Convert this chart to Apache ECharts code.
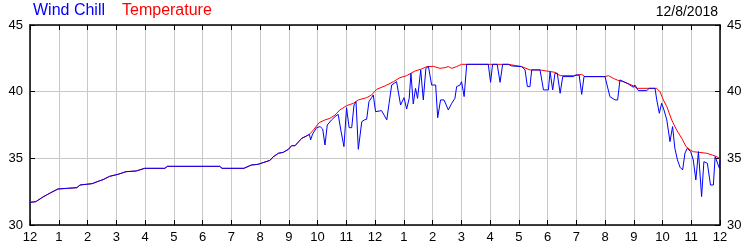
<!DOCTYPE html>
<html>
<head>
<meta charset="utf-8">
<script src="https://cdn.jsdelivr.net/npm/echarts@6/dist/echarts.min.js"></script>
<style>html,body{margin:0;padding:0;background:#fff}#c{width:750px;height:250px}</style>
</head>
<body>
<div id="c"></div>
<script>
// Hours since midnight and readings (°F)
var tempHours = [0,0.2,0.45,0.7,0.97,1.3,1.63,1.74,2.16,2.4,2.54,2.77,3.06,3.34,3.69,3.99,4.69,4.78,6.6,6.68,7.44,7.7,7.93,8.21,8.35,8.45,8.64,8.81,8.99,9.10,9.22,9.45,9.62,9.72,9.86,10.06,10.26,10.43,10.61,10.78,11.01,11.25,11.42,11.71,11.88,12.06,12.35,12.64,12.87,13.10,13.39,13.62,13.8,14.03,14.26,14.43,14.55,14.67,14.84,15.01,16.64,16.7,17.1,17.39,17.74,17.8,18.26,18.44,18.9,18.96,19.19,19.3,20.0,20.12,20.29,20.45,20.64,20.81,20.99,21.12,21.8,21.91,22.03,22.15,22.32,22.49,22.67,22.82,22.96,23.07,23.54,23.83,24.0];
var tempValues = [31.7,31.75,32.1,32.4,32.7,32.75,32.8,33.0,33.1,33.3,33.4,33.65,33.8,34.0,34.05,34.25,34.25,34.4,34.4,34.25,34.25,34.5,34.55,34.75,34.85,35.1,35.38,35.45,35.68,35.95,35.95,36.5,36.68,36.8,37.13,37.68,37.88,38.0,38.25,38.63,38.95,39.13,39.38,39.55,39.75,40.18,40.43,40.75,41.05,41.2,41.55,41.7,41.88,41.9,41.75,41.8,41.88,41.75,41.88,42.05,42.05,41.93,41.88,41.63,41.63,41.5,41.45,41.2,41.2,41.3,41.3,41.13,41.13,41.2,41.0,40.85,40.75,40.6,40.43,40.25,40.25,40.0,39.38,38.88,37.88,37.13,36.5,35.88,35.63,35.5,35.38,35.18,34.98];

var chillHours = [0,0.2,0.45,0.7,0.97,1.3,1.63,1.74,2.16,2.4,2.54,2.77,3.06,3.34,3.69,3.99,4.69,4.78,6.6,6.68,7.44,7.7,7.93,8.21,8.35,8.45,8.64,8.81,8.99,9.10,9.22,9.45,9.62,9.72,9.76,9.83,9.97,10.09,10.18,10.26,10.34,10.49,10.61,10.72,10.81,10.92,11.01,11.1,11.19,11.27,11.34,11.42,11.54,11.63,11.71,11.79,11.88,11.94,12.02,12.23,12.41,12.49,12.58,12.75,12.89,13.01,13.10,13.19,13.25,13.33,13.41,13.48,13.59,13.68,13.77,13.86,13.97,14.11,14.18,14.28,14.4,14.55,14.67,14.78,14.84,14.96,15.01,15.1,15.19,15.94,16.02,16.09,16.25,16.35,16.44,16.64,16.75,17.1,17.22,17.3,17.39,17.45,17.74,17.8,17.86,18.03,18.09,18.18,18.26,18.34,18.44,18.53,18.9,18.99,19.1,19.19,19.27,20.0,20.06,20.17,20.35,20.44,20.52,20.81,20.99,21.04,21.16,21.45,21.54,21.74,21.8,21.89,21.97,22.05,22.15,22.26,22.35,22.43,22.52,22.61,22.7,22.78,22.86,22.98,23.07,23.16,23.25,23.36,23.44,23.56,23.67,23.77,23.83,23.88,23.98,24.0];
var chillValues = [31.7,31.75,32.1,32.4,32.7,32.75,32.8,33.0,33.1,33.3,33.4,33.65,33.8,34.0,34.05,34.25,34.25,34.4,34.4,34.25,34.25,34.5,34.55,34.75,34.85,35.1,35.38,35.45,35.68,35.95,35.95,36.5,36.68,36.8,36.38,36.83,37.3,37.38,37.2,36.0,37.5,37.88,38.13,38.3,37.13,35.88,38.8,37.3,37.3,39.0,39.25,35.68,37.75,37.88,37.93,39.25,39.55,39.75,38.5,38.58,37.88,39.13,40.5,40.75,39.0,39.55,38.7,39.5,41.38,39.08,40.25,39.5,41.63,39.38,41.75,41.88,40.5,40.5,38.05,39.38,39.38,38.63,39.13,39.5,40.38,40.5,40.75,39.63,42.05,42.05,40.7,42.05,42.05,40.7,42.05,42.05,41.93,41.88,41.63,40.38,40.38,41.63,41.63,41.5,40.13,40.13,41.5,40.13,41.38,41.38,39.88,41.13,41.13,41.25,41.25,39.8,41.13,41.13,41.0,39.63,39.38,39.38,40.88,40.58,40.33,40.5,40.08,40.08,40.25,40.25,39.38,38.38,39.13,38.63,37.88,36.25,37.38,35.75,34.88,34.33,34.13,35.38,35.75,35.5,34.88,33.38,35.5,32.13,34.75,34.63,33.0,33.0,35.13,35.0,34.25,34.88];

var hourTicks = ['12','1','2','3','4','5','6','7','8','9','10','11','12','1','2','3','4','5','6','7','8','9','10','11','12'];
var seriesNames = ['Wind Chill','Temperature'];
var dateLabel = '12/8/2018';

function zip(a, b) { var r = []; for (var i = 0; i < a.length; i++) r.push([a[i], b[i]]); return r; }

var FONT = 'Liberation Sans, Arial, sans-serif';
var chart = echarts.init(document.getElementById('c'), null, {renderer: 'canvas'});
var xCommon = {
  type: 'value', min: 0, max: 24, interval: 1,
  axisLine: {show: true, onZero: false, lineStyle: {color: '#000', width: 1.5}},
  axisTick: {show: true, inside: true, length: 5, lineStyle: {color: '#000', width: 1}},
  splitLine: {show: false}
};
var yCommon = {
  type: 'value', min: 30, max: 45, interval: 5,
  axisLine: {show: true, onZero: false, lineStyle: {color: '#000', width: 1.5}},
  axisTick: {show: true, inside: true, length: 5, lineStyle: {color: '#000', width: 1}},
  axisLabel: {show: true, margin: 7, color: '#000', fontSize: 13, fontFamily: FONT},
  splitLine: {show: false}
};
chart.setOption({
  animation: false,
  backgroundColor: '#fff',
  grid: {left: 30, right: 30, top: 25, bottom: 25, containLabel: false},
  xAxis: [
    Object.assign({}, xCommon, {
      position: 'bottom',
      axisLabel: {show: true, margin: 6, color: '#000', fontSize: 13, fontFamily: FONT,
        formatter: function (v) { return hourTicks[Math.round(v)]; }},
      splitLine: {show: true, lineStyle: {color: '#c8c8c8', width: 1}}
    }),
    Object.assign({}, xCommon, {position: 'top', axisLabel: {show: false}})
  ],
  yAxis: [
    Object.assign({}, yCommon, {position: 'left',
      splitLine: {show: true, lineStyle: {color: '#c8c8c8', width: 1}}}),
    Object.assign({}, yCommon, {position: 'right'})
  ],
  graphic: [
    {type: 'text', left: 33, top: 3, style: {text: seriesNames[0], fill: '#0000ff', font: '16px ' + FONT}},
    {type: 'text', left: 122, top: 3, style: {text: seriesNames[1], fill: '#ff0000', font: '16px ' + FONT}},
    {type: 'text', right: 32, top: 5, style: {text: dateLabel, fill: '#000', font: '14px ' + FONT}}
  ],
  series: [
    {name: seriesNames[1], type: 'line', xAxisIndex: 0, yAxisIndex: 0, data: zip(tempHours, tempValues),
      showSymbol: false, symbol: 'none', lineStyle: {color: '#ff0000', width: 1}, z: 2},
    {name: seriesNames[0], type: 'line', xAxisIndex: 0, yAxisIndex: 0, data: zip(chillHours, chillValues),
      showSymbol: false, symbol: 'none', lineStyle: {color: '#0000ff', width: 1}, z: 3}
  ]
});
</script>
</body>
</html>
